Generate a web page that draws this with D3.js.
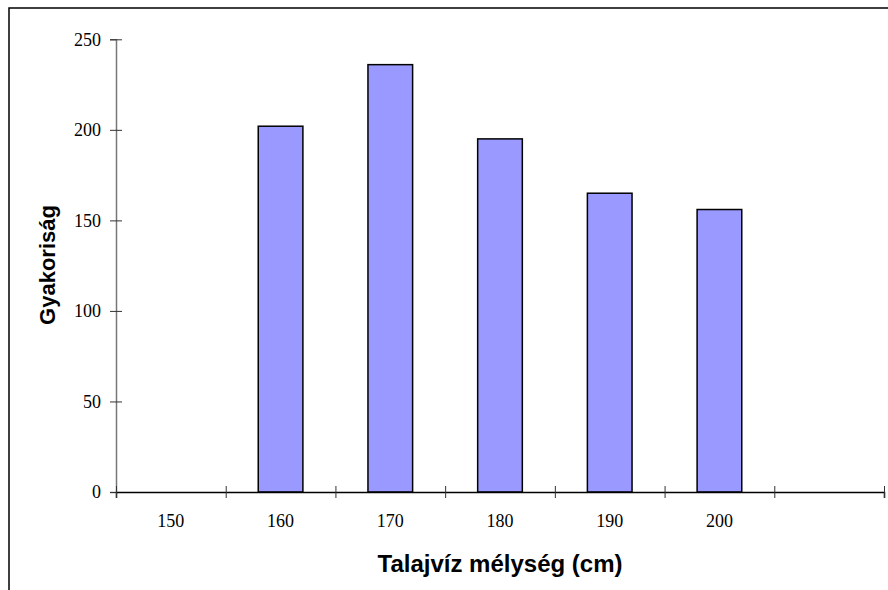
<!DOCTYPE html>
<html>
<head>
<meta charset="utf-8">
<script src="https://cdn.jsdelivr.net/npm/d3@7"></script>
<style>
  body { margin: 0; background: #fff; }
  svg { display: block; }
</style>
</head>
<body>
<svg id="chart" width="888" height="590"></svg>
<script>
// depth bins (cm) and counts, last bin has no label
var categories = ["150", "160", "170", "180", "190", "200", ""];
var counts = [0, 202, 236, 195, 165, 156, 0];
var y_ticks = [0, 50, 100, 150, 200, 250];

var svg = d3.select("#chart");

var left = 116, right = 884, top_y = 39.3, bottom = 492;

// outer frame (only top and left edges fall inside the picture)
svg.append("rect")
    .attr("x", 9).attr("y", 8)
    .attr("width", 1000).attr("height", 1000)
    .attr("fill", "none")
    .attr("stroke", "#000")
    .attr("stroke-width", 1.5);

var x = d3.scaleBand()
    .domain(categories)
    .range([left, right])
    .padding(0);

var y = d3.scaleLinear()
    .domain([0, 250])
    .range([bottom, top_y]);

// bars
var bar_frac = 0.407;
svg.append("g").selectAll("rect")
    .data(categories.map((c, i) => ({c: c, v: counts[i]})).filter(d => d.v > 0))
    .enter()
    .append("rect")
    .attr("x", d => x(d.c) + x.bandwidth() * (1 - bar_frac) / 2)
    .attr("y", d => y(d.v))
    .attr("width", x.bandwidth() * bar_frac)
    .attr("height", d => y(0) - y(d.v))
    .attr("fill", "#9999ff")
    .attr("stroke", "#000")
    .attr("stroke-width", 1.5);

// y axis
var y_axis = d3.axisLeft(y)
    .tickValues(y_ticks)
    .tickFormat(d3.format("d"))
    .tickSizeOuter(0)
    .tickSize(6);

var gy = svg.append("g")
    .attr("transform", "translate(" + left + ",0)")
    .call(y_axis);

gy.select(".domain").attr("stroke", "#777").attr("stroke-width", 1.5);
gy.selectAll(".tick line").attr("x1", -6).attr("x2", 6).attr("stroke", "#333");
gy.selectAll(".tick text")
    .attr("x", -15)
    .style("font-family", "'Liberation Serif', 'Times New Roman', serif")
    .style("font-size", "18px")
    .attr("fill", "#000");

// x axis: bin edges as ticks
var edges = d3.scaleLinear().domain([0, categories.length]).range([left, right]);
var gx = svg.append("g")
    .attr("transform", "translate(0," + bottom + ")")
    .call(d3.axisBottom(edges)
        .tickValues(d3.range(0, categories.length + 1))
        .tickFormat("")
        .tickSizeOuter(0)
        .tickSize(6));

gx.select(".domain").attr("stroke", "#000").attr("stroke-width", 1.5);
gx.selectAll(".tick line").attr("y1", -6).attr("y2", 6).attr("stroke", "#333");

// category labels
var gl = svg.append("g")
    .attr("transform", "translate(0," + bottom + ")")
    .call(d3.axisBottom(x).tickSize(0).tickPadding(0));
gl.select(".domain").remove();
gl.selectAll(".tick text")
    .attr("y", 22)
    .style("font-family", "'Liberation Serif', 'Times New Roman', serif")
    .style("font-size", "18px")
    .attr("fill", "#000");

// axis titles
svg.append("text")
    .attr("x", 500)
    .attr("y", 572)
    .attr("text-anchor", "middle")
    .style("font-family", "'Liberation Sans', Arial, sans-serif")
    .style("font-weight", "bold")
    .style("font-size", "24px")
    .text("Talajvíz mélység (cm)");

svg.append("text")
    .attr("transform", "translate(55,265) rotate(-90)")
    .attr("text-anchor", "middle")
    .style("font-family", "'Liberation Sans', Arial, sans-serif")
    .style("font-weight", "bold")
    .style("font-size", "22px")
    .text("Gyakoriság");
</script>
</body>
</html>
